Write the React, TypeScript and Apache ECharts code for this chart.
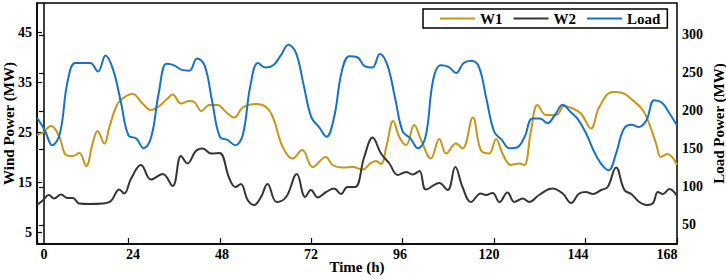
import React, { useEffect, useRef } from 'react';
import * as echarts from 'echarts';

const timeTicks = [0, 24, 48, 72, 96, 120, 144, 168];
const windTicks = [5, 15, 25, 35, 45];
const loadTicks = [50, 100, 150, 200, 250, 300];

const w1Hours = [0, 1.5, 3.7, 5.9, 7.6, 9.4, 11.1, 12.9, 14.6, 15.9, 17.7, 19.0, 21.2, 23.4, 25.1, 27.7, 29.9, 32.1, 34.3, 35.6, 37.8, 40.0, 41.3, 43.2, 45.2, 47.4, 49.6, 51.8, 54.0, 57.5, 60.1, 61.9, 64.5, 67.1, 69.6, 72.4, 75.8, 77.6, 80.2, 82.9, 85.5, 87.5, 89.0, 90.3, 91.8, 93.5, 95.1, 96.9, 99.0, 100.8, 103.4, 105.6, 107.4, 110.0, 111.7, 114.4, 116.5, 118.7, 120.5, 122.2, 124.4, 126.6, 127.9, 129.7, 131.4, 133.6, 136.3, 138.4, 140.6, 142.8, 145.4, 147.6, 151.1, 153.7, 156.3, 159.0, 160.7, 162.5, 163.8, 165.5, 168];
const w1Values = [24.5, 25.0, 26.3, 24.1, 20.5, 20.3, 20.9, 18.3, 22.8, 25.3, 22.8, 26.1, 30.8, 32.3, 32.7, 30.8, 29.5, 30.3, 31.8, 32.6, 30.8, 31.3, 31.1, 29.3, 30.5, 30.5, 29.1, 28.0, 30.0, 30.7, 30.1, 28.1, 22.1, 19.8, 21.5, 18.1, 20.1, 18.5, 18.0, 18.1, 17.6, 18.8, 19.3, 18.7, 22.5, 27.3, 24.1, 22.5, 26.5, 23.5, 19.8, 23.7, 20.8, 22.8, 21.8, 28.0, 21.5, 20.8, 23.7, 20.8, 18.5, 18.8, 18.5, 25.5, 30.5, 28.5, 28.5, 30.3, 29.8, 28.8, 25.8, 30.1, 33.1, 32.9, 31.5, 29.5, 26.8, 22.8, 20.1, 20.7, 18.5];

const w2Hours = [0, 1.5, 3.1, 4.5, 6.3, 8.0, 9.4, 11.1, 13.7, 17.2, 19.4, 21.6, 22.9, 24.7, 27.3, 29.9, 33.0, 35.6, 37.8, 39.5, 41.7, 43.5, 45.7, 47.9, 50.5, 52.1, 53.5, 55.3, 57.0, 58.8, 60.5, 62.9, 65.4, 68.2, 70.4, 71.9, 73.7, 75.9, 78.0, 79.8, 81.5, 83.5, 85.9, 88.1, 90.3, 92.5, 94.7, 96.9, 98.6, 100.4, 102.1, 105.6, 107.8, 109.8, 111.7, 113.9, 116.5, 117.8, 119.6, 121.4, 123.5, 125.3, 127.5, 129.2, 131.8, 135.3, 138.0, 140.2, 142.3, 144.1, 145.9, 148.1, 149.8, 152.0, 154.2, 156.0, 158.1, 159.9, 161.6, 163.0, 164.3, 166.0, 168];
const w2Values = [10.5, 11.4, 12.5, 11.8, 12.6, 11.9, 11.9, 10.8, 10.7, 10.8, 11.3, 13.6, 12.8, 15.8, 18.5, 15.6, 16.7, 14.3, 20.3, 18.8, 21.3, 21.8, 20.8, 20.9, 15.8, 14.1, 14.7, 11.5, 10.5, 12.1, 14.7, 11.1, 12.1, 16.7, 12.1, 13.5, 12.0, 13.1, 13.8, 12.7, 14.1, 14.1, 20.1, 24.0, 20.8, 18.8, 16.5, 17.1, 16.6, 17.3, 13.6, 14.9, 13.5, 18.1, 14.1, 11.1, 12.8, 12.5, 12.9, 11.1, 13.0, 11.1, 11.8, 11.1, 12.5, 13.8, 12.8, 10.9, 12.8, 13.1, 12.7, 13.5, 14.1, 18.0, 13.5, 12.7, 11.1, 10.5, 10.8, 13.1, 12.7, 13.7, 12.3];

const loadHours = [0, 2, 4, 6, 8, 10, 12, 14, 16, 18, 20, 22, 24, 26, 28, 30, 32, 34, 36, 38, 40, 42, 44, 46, 48, 50, 52, 54, 56, 58, 60, 62, 64, 66, 68, 70, 72, 74, 76, 78, 80, 82, 84, 86, 88, 90, 92, 94, 96, 98, 100, 102, 104, 106, 108, 110, 112, 114, 116, 118, 120, 122, 124, 126, 128, 130, 132, 134, 136, 138, 140, 142, 144, 146, 148, 150, 152, 154, 156, 158, 160, 162, 164, 166, 168];
const loadValues = [191, 175, 155, 170, 238, 263, 263, 263, 252, 273, 254, 212, 168, 164, 151, 166, 225, 262, 260, 254, 253, 269, 260, 212, 166, 162, 155, 168, 233, 263, 257, 260, 273, 287, 276, 234, 192, 179, 166, 192, 252, 272, 271, 259, 257, 275, 260, 217, 173, 164, 151, 166, 241, 260, 258, 250, 263, 266, 258, 215, 173, 162, 151, 152, 166, 190, 190, 184, 195, 208, 199, 189, 172, 149, 131, 122, 144, 176, 182, 179, 188, 214, 211, 197, 181];

const FONT = "'Liberation Serif', 'Times New Roman', serif";
const BLACK = '#000';

function pairs(xs: number[], ys: number[]) {
  return xs.map((x, i) => [x, ys[i]]);
}

export default function App() {
  const ref = useRef<HTMLDivElement>(null);
  useEffect(() => {
    if (!ref.current) return;
    const chart = echarts.init(ref.current, undefined, { renderer: 'svg' });
    const labelStyle = { fontFamily: FONT, fontWeight: 'bold' as const, fontSize: 14, color: BLACK };
    const nameStyle = { fontFamily: FONT, fontWeight: 'bold' as const, fontSize: 15, color: BLACK };
    chart.setOption({
      animation: false,
      backgroundColor: '#fff',
      grid: {
        left: 37, right: 49, top: 3, bottom: 33,
        containLabel: false, outerBoundsMode: 'none',
        show: true, borderColor: BLACK, borderWidth: 1.5, backgroundColor: 'transparent',
      },
      legend: {
        left: 423, top: 9,
        icon: 'rect',
        itemWidth: 35, itemHeight: 2, itemGap: 11,
        padding: [2, 7, 2, 17],
        borderColor: BLACK, borderWidth: 1.5, borderRadius: 0,
        backgroundColor: '#fff',
        textStyle: { ...nameStyle },
        data: ['W1', 'W2', 'Load'],
      },
      xAxis: [
        {
          type: 'value', min: 0, max: 168, position: 'bottom',
          axisLine: { show: true, lineStyle: { color: BLACK, width: 1.5 } },
          axisTick: { show: true, inside: true, length: 6, lineStyle: { color: BLACK, width: 1.2 }, customValues: timeTicks },
          axisLabel: { show: false },
          splitLine: { show: false },
          name: 'Time (h)', nameLocation: 'middle', nameGap: 15, nameMoveOverlap: false, nameTextStyle: nameStyle,
        },
        {
          type: 'value', min: -1.89, max: 170.7, position: 'bottom', offset: 0,
          axisLine: { show: false }, axisTick: { show: false }, splitLine: { show: false },
          axisLabel: { show: true, ...labelStyle, margin: 3, customValues: timeTicks },
        },
      ],
      yAxis: [
        {
          type: 'value', min: 2.7, max: 50.9, position: 'left',
          axisLine: { show: true, lineStyle: { color: BLACK, width: 1.5 } },
          axisTick: { show: true, inside: true, length: 5, lineStyle: { color: BLACK, width: 1.2 }, customValues: windTicks },
          axisLabel: { show: true, ...labelStyle, margin: 5, customValues: windTicks },
          splitLine: { show: false },
          name: 'Wind Power (MW)', nameLocation: 'middle', nameGap: 21, nameRotate: 90, nameMoveOverlap: false, nameTextStyle: nameStyle,
        },
        {
          type: 'value', min: 25, max: 342, position: 'right',
          axisLine: { show: true, lineStyle: { color: BLACK, width: 1.5 } },
          axisTick: { show: true, inside: true, length: 5, lineStyle: { color: BLACK, width: 1.2 }, customValues: loadTicks },
          axisLabel: { show: true, ...labelStyle, margin: 5, customValues: loadTicks },
          splitLine: { show: false },
          name: 'Load Power (MW)', nameLocation: 'middle', nameGap: 34, nameRotate: 90, nameMoveOverlap: false, nameTextStyle: nameStyle,
        },
      ],
      series: [
        {
          name: 'W1', type: 'line', xAxisIndex: 0, yAxisIndex: 0, smooth: 0.4, symbol: 'none',
          lineStyle: { color: '#C8961A', width: 2 }, itemStyle: { color: '#C8961A' },
          data: pairs(w1Hours, w1Values),
        },
        {
          name: 'W2', type: 'line', xAxisIndex: 0, yAxisIndex: 0, smooth: 0.4, symbol: 'none',
          lineStyle: { color: '#353535', width: 2 }, itemStyle: { color: '#353535' },
          data: pairs(w2Hours, w2Values),
        },
        {
          name: 'Load', type: 'line', xAxisIndex: 0, yAxisIndex: 1, smooth: 0.4, symbol: 'none',
          lineStyle: { color: '#1672C8', width: 2 }, itemStyle: { color: '#1672C8' },
          data: pairs(loadHours, loadValues),
        },
      ],
    });
    return () => chart.dispose();
  }, []);
  return <div ref={ref} style={{ position: 'fixed', left: 0, top: 0, width: 726, height: 277, background: '#fff' }} />;
}
